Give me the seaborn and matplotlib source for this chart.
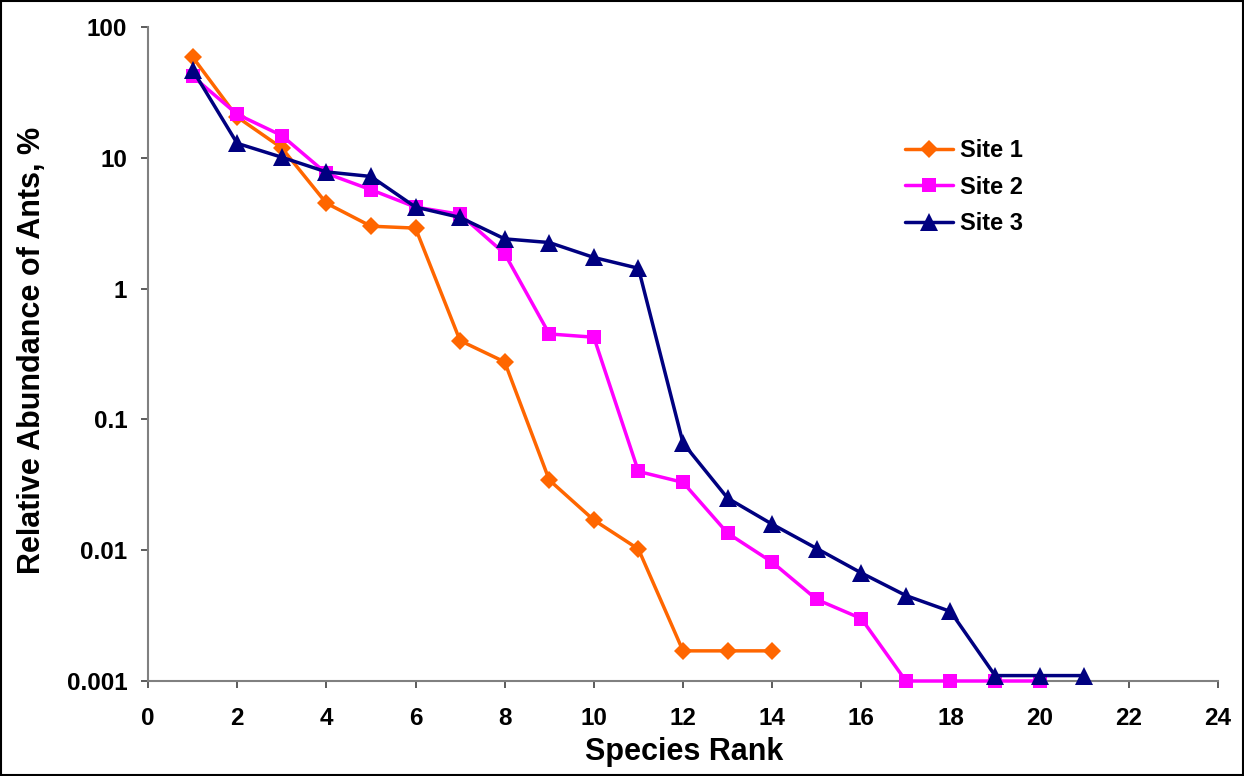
import numpy as np
import pandas as pd
import matplotlib
matplotlib.use("Agg")
import matplotlib.pyplot as plt
import seaborn as sns
from matplotlib.patches import Rectangle

# Data
site1 = [59, 20.5, 11.9, 4.5, 3.0, 2.9, 0.40, 0.275, 0.0344, 0.017, 0.0102, 0.0017, 0.0017, 0.0017]
site2 = [42, 21.5, 14.8, 7.6, 5.7, 4.2, 3.7, 1.85, 0.45, 0.425, 0.040, 0.033, 0.0135, 0.0081, 0.0042, 0.0030, 0.001, 0.001, 0.001, 0.001]
site3 = [47, 12.9, 10.1, 7.8, 7.2, 4.2, 3.5, 2.4, 2.25, 1.73, 1.43, 0.066, 0.025, 0.0158, 0.0103, 0.0067, 0.0045, 0.0034, 0.0011, 0.0011, 0.0011]
series_names = ["Site 1", "Site 2", "Site 3"]
colors = ["#FF6600", "#FF00FF", "#000080"]
markers = ["D", "s", "^"]
x_ticks = list(range(0, 25, 2))
y_ticks = [0.001, 0.01, 0.1, 1, 10, 100]
y_tick_labels = ["0.001", "0.01", "0.1", "1", "10", "100"]

frames = []
for name, vals in zip(series_names, [site1, site2, site3]):
    frames.append(pd.DataFrame({"rank": np.arange(1, len(vals) + 1), "abund": vals, "site": name}))
df = pd.concat(frames, ignore_index=True)

sns.set_style("white")
plt.rcParams['font.family'] = ['Liberation Sans', 'DejaVu Sans']
plt.rcParams['font.weight'] = 'bold'
plt.rcParams['text.color'] = 'black'
plt.rcParams['axes.labelcolor'] = 'black'
plt.rcParams['xtick.color'] = 'black'
plt.rcParams['ytick.color'] = 'black'

fig = plt.figure(figsize=(12.44, 7.76), dpi=100)
ax = fig.add_axes([148 / 1244, 1 - 681 / 776, 1070 / 1244, 654 / 776])

msizes = {"D": 9.0, "s": 10.5, "^": 12.5}
sns.lineplot(data=df, x="rank", y="abund", hue="site", style="site",
             palette=dict(zip(series_names, colors)),
             markers=dict(zip(series_names, markers)),
             dashes=False, linewidth=2.5, markeredgewidth=0,
             ax=ax, legend=False)
for line, m in zip(ax.get_lines(), markers):
    line.set_markersize(msizes[m])
    line.set_clip_on(False)
    line.set_zorder(3)

ax.set_yscale("log")
ax.set_xlim(0, 24)
ax.set_ylim(0.001, 100)
ax.set_xticks(x_ticks)
ax.set_xticklabels([str(t) for t in x_ticks])
ax.set_yticks(y_ticks)
ax.set_yticklabels(y_tick_labels)
ax.yaxis.set_minor_locator(matplotlib.ticker.NullLocator())
ax.xaxis.set_minor_locator(matplotlib.ticker.NullLocator())

for s in ["top", "right"]:
    ax.spines[s].set_visible(False)
for s in ["left", "bottom"]:
    ax.spines[s].set_color("#808080")
    ax.spines[s].set_linewidth(1.5)
    ax.spines[s].set_zorder(1)

ax.tick_params(axis="both", which="major", direction="out", length=5, width=1.2,
               color="#404040", labelcolor="black", labelsize=17.5, bottom=True, left=True)
ax.tick_params(axis="x", pad=14)
ax.tick_params(axis="y", pad=10)
for lab in ax.get_xticklabels() + ax.get_yticklabels():
    lab.set_fontweight("bold")

ax.set_xlabel("Species Rank", fontsize=22, fontweight="bold", color="black")
ax.set_ylabel("Relative Abundance of Ants, %", fontsize=22, fontweight="bold", color="black")
ax.xaxis.set_label_coords((684 - 148) / 1070, (681 - 737) / 654)
ax.yaxis.set_label_coords(-0.094, 0.505)

handles = []
for name, c, m in zip(series_names, colors, markers):
    h, = ax.plot([], [], color=c, marker=m, markersize=msizes[m], linewidth=2.5,
                 markeredgewidth=0, label=name)
    handles.append(h)
leg = ax.legend(handles=handles, loc="upper left", bbox_to_anchor=(905 / 1244, 1 - 139 / 776),
                bbox_transform=fig.transFigure, frameon=False, borderpad=0, borderaxespad=0,
                fontsize=17, handlelength=2.05, labelspacing=0.58, handletextpad=0.3)
for t in leg.get_texts():
    t.set_fontweight("bold")
    t.set_color("black")

fig.patches.append(Rectangle((0.001, 0.001), 0.998, 0.998, transform=fig.transFigure,
                             fill=False, edgecolor="black", linewidth=1.5))

fig.savefig("out.png", dpi=100)
